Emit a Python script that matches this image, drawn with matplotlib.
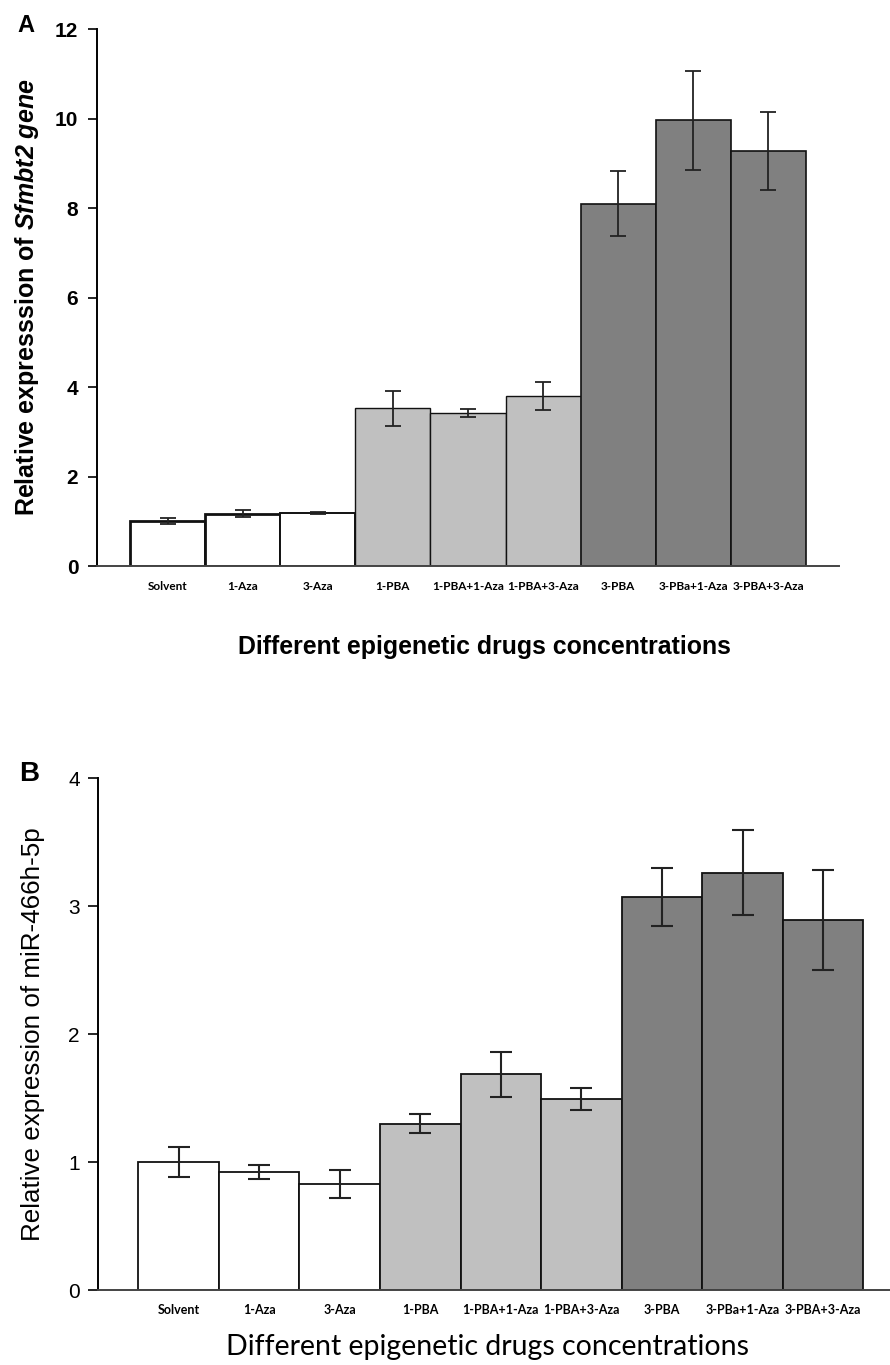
import matplotlib
matplotlib.use("Agg")
import matplotlib.pyplot as plt
import numpy as np

plt.rcParams["mathtext.fontset"] = "custom"
plt.rcParams["mathtext.rm"] = "Liberation Sans"
plt.rcParams["mathtext.it"] = "Liberation Sans:italic"
plt.rcParams["mathtext.bf"] = "Liberation Sans:bold"
plt.rcParams["mathtext.bfit"] = "Liberation Sans:italic:bold"

categories = ["Solvent", "1-Aza", "3-Aza", "1-PBA", "1-PBA+1-Aza", "1-PBA+3-Aza",
              "3-PBA", "3-PBa+1-Aza", "3-PBA+3-Aza"]

sfmbt2_values = [1.00, 1.17, 1.18, 3.52, 3.41, 3.80, 8.10, 9.96, 9.27]
sfmbt2_errors = [0.07, 0.085, 0.02, 0.39, 0.09, 0.31, 0.73, 1.10, 0.87]

mir_values = [1.00, 0.92, 0.83, 1.30, 1.685, 1.495, 3.07, 3.26, 2.89]
mir_errors = [0.115, 0.055, 0.11, 0.076, 0.175, 0.085, 0.225, 0.33, 0.39]

bar_colors = ["#ffffff"] * 3 + ["#c0c0c0"] * 3 + ["#808080"] * 3

W, H = 890, 1365
fig = plt.figure(figsize=(W / 100, H / 100), dpi=100)

def rect(l, t, r, b):
    return [l / W, 1 - b / H, (r - l) / W, (b - t) / H]

x = np.arange(len(categories))

# ---------------- Panel A ----------------
axA = fig.add_axes(rect(97, 29, 839, 566))
lwA = [2.0, 2.0, 1.4, 1.0, 1.0, 1.0, 1.2, 1.2, 1.2]
axA.bar(x, sfmbt2_values, width=1.0, color=bar_colors, edgecolor="#111111",
        linewidth=lwA, zorder=2)
axA.errorbar(x, sfmbt2_values, yerr=sfmbt2_errors, fmt="none", ecolor="#222222",
             elinewidth=1.3, capsize=5.5, capthick=1.3, zorder=3)
axA.set_xlim(-0.94, 8.94)
axA.set_ylim(0, 12)
axA.set_yticks([0, 2, 4, 6, 8, 10, 12])
axA.set_xticks(x)
axA.set_xticklabels(categories, family="Lato", fontweight="bold", fontsize=8.5)
for lab in axA.get_yticklabels():
    lab.set_family("Liberation Sans")
    lab.set_fontweight("bold")
    lab.set_fontsize(15)
axA.tick_params(axis="x", length=0, pad=11)
axA.tick_params(axis="y", length=6.5, width=1.2, pad=7)
for s in ["top", "right"]:
    axA.spines[s].set_visible(False)
axA.spines["left"].set_linewidth(1.4)
axA.spines["bottom"].set_linewidth(1.4)
axA.spines["bottom"].set_color("#444444")
axA.set_ylabel("Relative expresssion of $\\mathbfit{Sfmbt2\\ gene}$",
               family="Liberation Sans", fontweight="bold", fontsize=18, labelpad=10)
fig.text(484 / W, 1 - 647 / H, "Different epigenetic drugs concentrations",
         ha="center", va="center", family="Liberation Sans", fontweight="bold",
         fontsize=17.9)
fig.text(26 / W, 1 - 26 / H, "A", ha="center", va="center",
         family="Liberation Sans", fontweight="bold", fontsize=17)

# ---------------- Panel B ----------------
axB = fig.add_axes(rect(98, 778, 890, 1290))
axB.bar(x, mir_values, width=1.0, color=bar_colors, edgecolor="#111111",
        linewidth=1.3, zorder=2)
axB.errorbar(x, mir_values, yerr=mir_errors, fmt="none", ecolor="#222222",
             elinewidth=1.5, capsize=8, capthick=1.5, zorder=3)
axB.set_xlim(-1.0, 8.83)
axB.set_ylim(0, 4)
axB.set_yticks([0, 1, 2, 3, 4])
axB.set_xticks(x)
axB.set_xticklabels(categories, family="Lato", fontweight="bold", fontsize=9.0)
for lab in axB.get_yticklabels():
    lab.set_family("Liberation Sans")
    lab.set_fontsize(15)
axB.tick_params(axis="x", length=0, pad=10)
axB.tick_params(axis="y", length=7, width=1.2, pad=6)
for s in ["top", "right"]:
    axB.spines[s].set_visible(False)
axB.spines["left"].set_linewidth(1.4)
axB.spines["bottom"].set_linewidth(1.4)
axB.spines["bottom"].set_color("#444444")
axB.set_ylabel("Relative expression of miR-466h-5p", family="Liberation Sans",
               fontsize=18.7, labelpad=17)
fig.text(487 / W, 1 - 1347 / H, "Different epigenetic drugs concentrations",
         ha="center", va="center", family="Lato", fontsize=20.5)
fig.text(29 / W, 1 - 774 / H, "B", ha="center", va="center",
         family="Liberation Sans", fontweight="bold", fontsize=20)

fig.savefig("out.png", dpi=100)
